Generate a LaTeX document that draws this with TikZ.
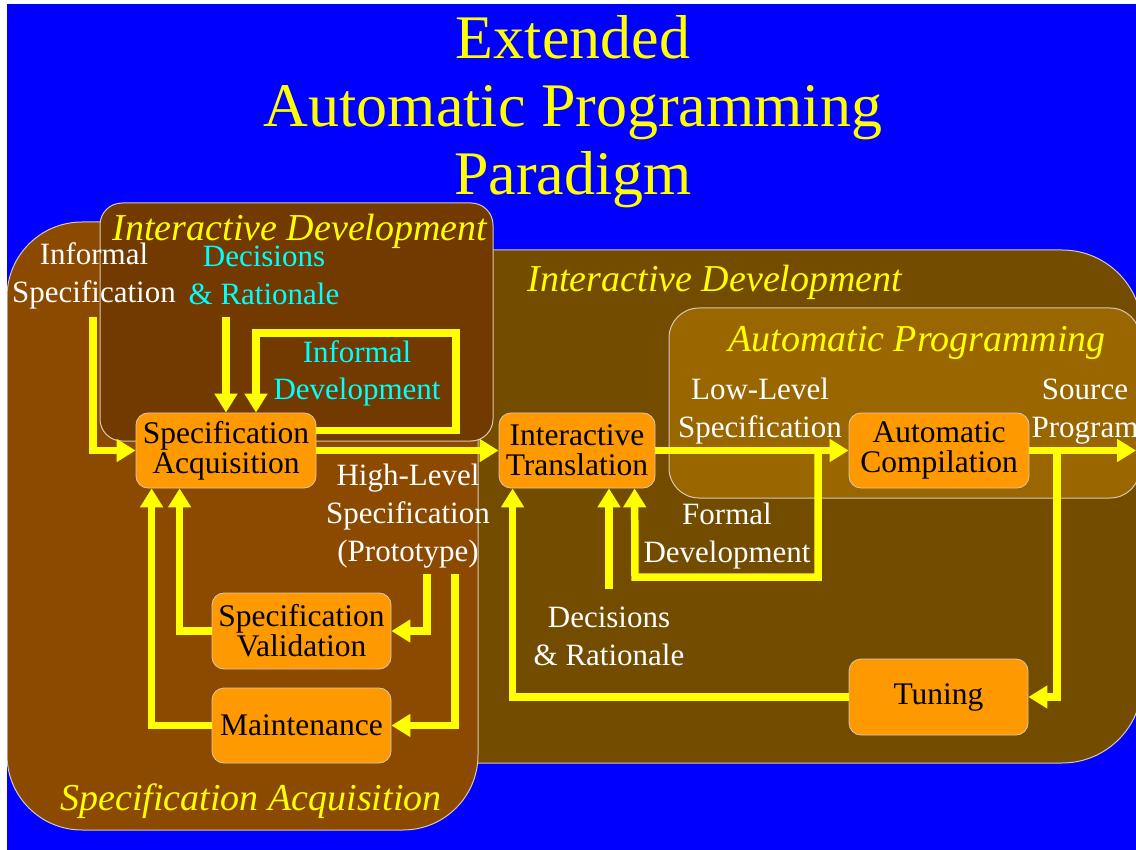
\documentclass[tikz,border=0pt]{standalone}
\usepackage{fontspec}
\setmainfont{Liberation Serif}
\usetikzlibrary{arrows.meta,calc}
\definecolor{bgblue}{RGB}{0,0,255}
\definecolor{sacol}{RGB}{140,74,0}
\definecolor{idin}{RGB}{115,58,0}
\definecolor{idbig}{RGB}{115,76,0}
\definecolor{apcol}{RGB}{153,102,0}
\definecolor{boxcol}{RGB}{255,153,0}
\definecolor{ylw}{RGB}{255,255,0}
\definecolor{cyn}{RGB}{0,255,255}
\definecolor{edgecol}{RGB}{215,200,185}
\begin{document}
\begin{tikzpicture}[x=1pt,y=-1pt,
  region/.style={draw=edgecol,line width=1pt},
  procbox/.style={draw=edgecol,line width=0.8pt,fill=boxcol,rounded corners=12pt,
    minimum width=180pt,minimum height=75pt,inner sep=0pt,align=center,
    font=\fontsize{31.5}{30}\selectfont,text=black},
  lbl/.style={align=center,font=\fontsize{31}{38}\selectfont,text=white,inner sep=0pt,anchor=base},
  reglbl/.style={font=\fontsize{38}{40}\selectfont\itshape,text=ylw,inner sep=0pt,anchor=base},
  arr/.style={draw=ylw,line width=7.5pt,miter limit=10,
    -{Triangle[width=22pt,length=19pt]}}]
\useasboundingbox (0,0) rectangle (1136,850);
\fill[white] (0,0) rectangle (1136,850);
\fill[bgblue] (7,4) rectangle (1136,850);
\begin{scope}
\clip (7,4) rectangle (1136,850);
% title (base anchor = baseline of last line)
\node[anchor=base,align=center,text=ylw,inner sep=0pt,font=\fontsize{62}{68}\selectfont] (title) at (573,195) {Extended\\Automatic Programming\\Paradigm};
% regions
\draw[region,fill=idbig,rounded corners=80pt] (300,250) rectangle (1142,763);
\draw[region,fill=apcol,rounded corners=30pt] (669,308) rectangle (1140,498);
\draw[region,fill=sacol,rounded corners=75pt] (7,222) rectangle (478,830);
\draw[region,fill=idin,rounded corners=22pt] (100,203) rectangle (493,441);
% region labels
\node[reglbl] (rid1) at (300,241) {Interactive Development};
\node[reglbl] (rid2) at (715,292) {Interactive Development};
\node[reglbl] (rap) at (917,352) {Automatic Programming};
\node[reglbl] (rsa) at (251,810) {Specification Acquisition};
% boxes
\node[procbox] (sa) at (226,450.5) {Specification\\Acquisition};
\node[procbox,minimum width=156pt] (it) at (577,450.5) {Interactive\\Translation};
\node[procbox] (ac) at (939,450.5) {Automatic\\Compilation};
\node[procbox,minimum width=179pt,minimum height=76pt] (sv) at (301.5,631) {Specification\\Validation};
\node[procbox,minimum width=179pt] (mt) at (301.5,725.5) {Maintenance};
\node[procbox,minimum width=179pt,minimum height=76pt] (tu) at (938.5,697) {Tuning};
% labels (base anchor = baseline of last line)
\node[lbl] (lis) at (94,303) {Informal\\Specification};
\node[lbl,text=cyn] (ldr1) at (264,305) {Decisions\\\& Rationale};
\node[lbl,text=cyn] (lid) at (357,400) {Informal\\Development};
\node[lbl] (lll) at (760,438) {Low-Level\\Specification};
\node[lbl] (lsp) at (1085,438) {Source\\Program};
\node[lbl] (lhl) at (408,561) {High-Level\\Specification\\(Prototype)};
\node[lbl] (lfd) at (727,562) {Formal\\Development};
\node[lbl] (ldr2) at (609,665) {Decisions\\\& Rationale};
% free ends
\coordinate (cis) at (93,317);
\coordinate (cdr1) at (226,317);
\coordinate (chl1) at (427,574);
\coordinate (chl2) at (455,574);
\coordinate (cdr2) at (609,589);
\coordinate (cfd) at (818,450.5);
\coordinate (ctu) at (1057,450.5);
\coordinate (cout) at (1136,450.5);
% connectors
\draw[arr] (cis) |- (sa.west);
\draw[arr] (cdr1) -- (cdr1 |- sa.north);
\draw[arr] ($(sa.north east)+(0,18)$) -| (456,333) -| ($(sa.north)+(30,0)$);
\draw[arr] (sa.east) -- (it.west);
\draw[arr] (chl1) |- (sv.east);
\draw[arr] (chl2) |- (mt.east);
\draw[arr] (sv.west) -| ($(sa.south west)+(44,0)$);
\draw[arr] (mt.west) -| ($(sa.south west)+(16,0)$);
\draw[arr] (it.east) -- (ac.west);
\draw[arr] (cfd) |- (635,577) -- ($(it.south west)+(136,0)$);
\draw[arr] (cdr2) -- (cdr2 |- it.south);
\draw[arr] (tu.west) -| ($(it.south west)+(14,0)$);
\draw[arr] (ac.east) -- (cout);
\draw[arr] (ctu) |- (tu.east);
\end{scope}
\end{tikzpicture}
\end{document}
